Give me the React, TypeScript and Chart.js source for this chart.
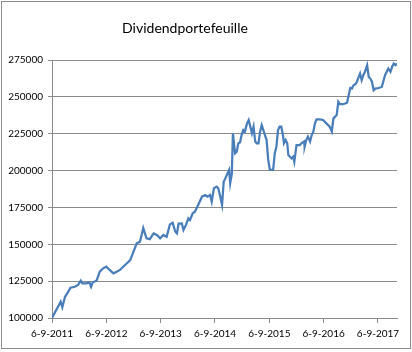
import React, { useEffect, useRef } from 'react';
import { Chart, registerables } from 'chart.js';

Chart.register(...registerables);

const chartTitle = 'Dividendportefeuille';

// Decimal years (6 September = .68)
const years = [
  2011.68, 2011.84, 2011.87, 2011.92, 2011.97, 2012.02, 2012.10, 2012.16, 2012.21, 2012.24,
  2012.31, 2012.37, 2012.40, 2012.43, 2012.50, 2012.56, 2012.62, 2012.68, 2012.74, 2012.81,
  2012.87, 2012.93, 2012.99, 2013.06, 2013.12, 2013.18, 2013.24, 2013.30, 2013.33, 2013.36,
  2013.39, 2013.42, 2013.48, 2013.55, 2013.61, 2013.67, 2013.73, 2013.79, 2013.85, 2013.90,
  2013.95, 2013.98, 2014.01, 2014.07, 2014.10, 2014.15, 2014.19, 2014.22, 2014.27, 2014.31,
  2014.37, 2014.44, 2014.50, 2014.54, 2014.59, 2014.62, 2014.66, 2014.71, 2014.74, 2014.77,
  2014.81, 2014.84, 2014.87, 2014.91, 2014.94, 2014.96, 2014.99, 2015.01, 2015.05, 2015.08,
  2015.11, 2015.14, 2015.17, 2015.20, 2015.23, 2015.27, 2015.30, 2015.33, 2015.36, 2015.39,
  2015.42, 2015.45, 2015.48, 2015.51, 2015.54, 2015.57, 2015.60, 2015.63, 2015.66, 2015.69,
  2015.75, 2015.78, 2015.81, 2015.84, 2015.87, 2015.90, 2015.93, 2015.95, 2015.98, 2016.01,
  2016.03, 2016.06, 2016.09, 2016.12, 2016.14, 2016.18, 2016.24, 2016.27, 2016.32, 2016.33,
  2016.36, 2016.39, 2016.43, 2016.46, 2016.49, 2016.52, 2016.55, 2016.61, 2016.67, 2016.73,
  2016.79, 2016.83, 2016.86, 2016.92, 2016.95, 2016.98, 2017.04, 2017.11, 2017.14, 2017.17,
  2017.20, 2017.23, 2017.26, 2017.29, 2017.32, 2017.35, 2017.38, 2017.41, 2017.44, 2017.48,
  2017.51, 2017.54, 2017.57, 2017.60, 2017.63, 2017.69, 2017.75, 2017.81, 2017.87, 2017.91,
  2017.94, 2017.97, 2018.00, 2018.03,
];

const values = [
  100000, 111000, 107300, 114400, 117200, 120500, 121200, 122400, 125300, 123500,
  123500, 124000, 121200, 124200, 125300, 131400, 133700, 134800, 132600, 130300,
  131400, 132600, 134800, 137100, 139300, 145000, 150700, 151800, 156300, 161000,
  157400, 154000, 153500, 157400, 156300, 154000, 156300, 155100, 163500, 164600,
  158500, 157400, 164000, 164200, 159700, 163500, 167600, 166500, 171000, 172100,
  176600, 182300, 183400, 182300, 183400, 178900, 188000, 189100, 188000, 183400,
  176600, 192400, 194700, 198000, 200400, 191400, 198000, 225300, 211700, 212800,
  218500, 219000, 224100, 227500, 226400, 232000, 234300, 229800, 225300, 229800,
  219700, 218500, 218500, 226400, 230900, 227500, 224100, 220700, 207200, 200400,
  200400, 211700, 216200, 227500, 229800, 229800, 224100, 218500, 220700, 218500,
  210500, 209400, 208300, 209400, 206000, 217300, 217300, 218500, 219700, 216200,
  220700, 223000, 219700, 224100, 226400, 232000, 234700, 234700, 234300, 232000,
  229800, 226500, 235400, 237700, 246600, 245000, 245000, 246000, 251000, 256000,
  255600, 257900, 258500, 260000, 263000, 265800, 261300, 264700, 267000, 271500,
  263500, 262400, 260100, 254500, 255600, 256000, 256700, 264700, 269200, 267000,
  270400, 272600, 271500, 272600,
];

const xTickYears = [2011, 2012, 2013, 2014, 2015, 2016, 2017];
const xTickLabels = ['6-9-2011', '6-9-2012', '6-9-2013', '6-9-2014', '6-9-2015', '6-9-2016', '6-9-2017'];
const xTickFraction = 0.68; // 6 September as fraction of the year
const yMin = 100000;
const yMax = 275000;
const yStep = 25000;

const FONT = 'Lato, "Open Sans", sans-serif';
const GRID = '#8a8a8a';

export default function App() {
  const canvasRef = useRef<HTMLCanvasElement | null>(null);

  useEffect(() => {
    const canvas = canvasRef.current;
    if (!canvas) return;
    const chart = new Chart(canvas, {
      type: 'line',
      data: {
        datasets: [
          {
            label: chartTitle,
            data: years.map((x, i) => ({ x, y: values[i] })),
            borderColor: '#4a7ebb',
            backgroundColor: '#4a7ebb',
            borderWidth: 2.25,
            pointRadius: 0,
            tension: 0,
            fill: false,
          },
        ],
      },
      options: {
        responsive: false,
        animation: false,
        layout: { padding: { left: 0, right: 15, top: 60, bottom: 0 } },
        plugins: {
          legend: { display: false },
          title: { display: false },
          tooltip: { enabled: false },
        },
        scales: {
          x: {
            type: 'linear',
            min: years[0],
            max: years[years.length - 1],
            afterBuildTicks: (scale: any) => {
              scale.ticks = xTickYears.map((y) => ({ value: y + xTickFraction }));
            },
            afterFit: (scale: any) => {
              scale.height = 34;
            },
            grid: {
              display: true,
              drawOnChartArea: false,
              drawTicks: true,
              tickLength: 5,
              color: GRID,
            },
            border: { display: true, color: GRID, width: 1 },
            ticks: {
              autoSkip: false,
              maxRotation: 0,
              minRotation: 0,
              padding: 5,
              color: '#000',
              font: { family: FONT, size: 10 },
              callback: (_v: any, i: number) => xTickLabels[i],
            },
          },
          y: {
            min: yMin,
            max: yMax,
            afterFit: (scale: any) => {
              scale.width = 52;
            },
            grid: {
              color: GRID,
              lineWidth: 1,
              drawTicks: true,
              tickLength: 4,
            },
            border: { display: true, color: GRID, width: 1 },
            ticks: {
              stepSize: yStep,
              padding: 5,
              color: '#000',
              font: { family: FONT, size: 10 },
              callback: (v: any) => String(v),
            },
          },
        },
      },
    });
    return () => chart.destroy();
  }, []);

  return (
    <div style={{ position: 'fixed', left: 0, top: 0, width: 412, height: 352, background: '#fff', overflow: 'hidden' }}>
      <canvas ref={canvasRef} width={412} height={352} style={{ position: 'absolute', left: 0, top: 0 }} />
      <div
        style={{
          position: 'absolute',
          left: 1,
          top: 1,
          width: 410,
          height: 348,
          boxSizing: 'border-box',
          border: '1px solid #8c8c8c',
          pointerEvents: 'none',
        }}
      />
      <div
        style={{
          position: 'absolute',
          left: 0,
          top: 18,
          width: 370,
          textAlign: 'center',
          fontFamily: FONT,
          fontSize: 14,
          lineHeight: '20px',
          color: '#000',
        }}
      >
        {chartTitle}
      </div>
    </div>
  );
}
